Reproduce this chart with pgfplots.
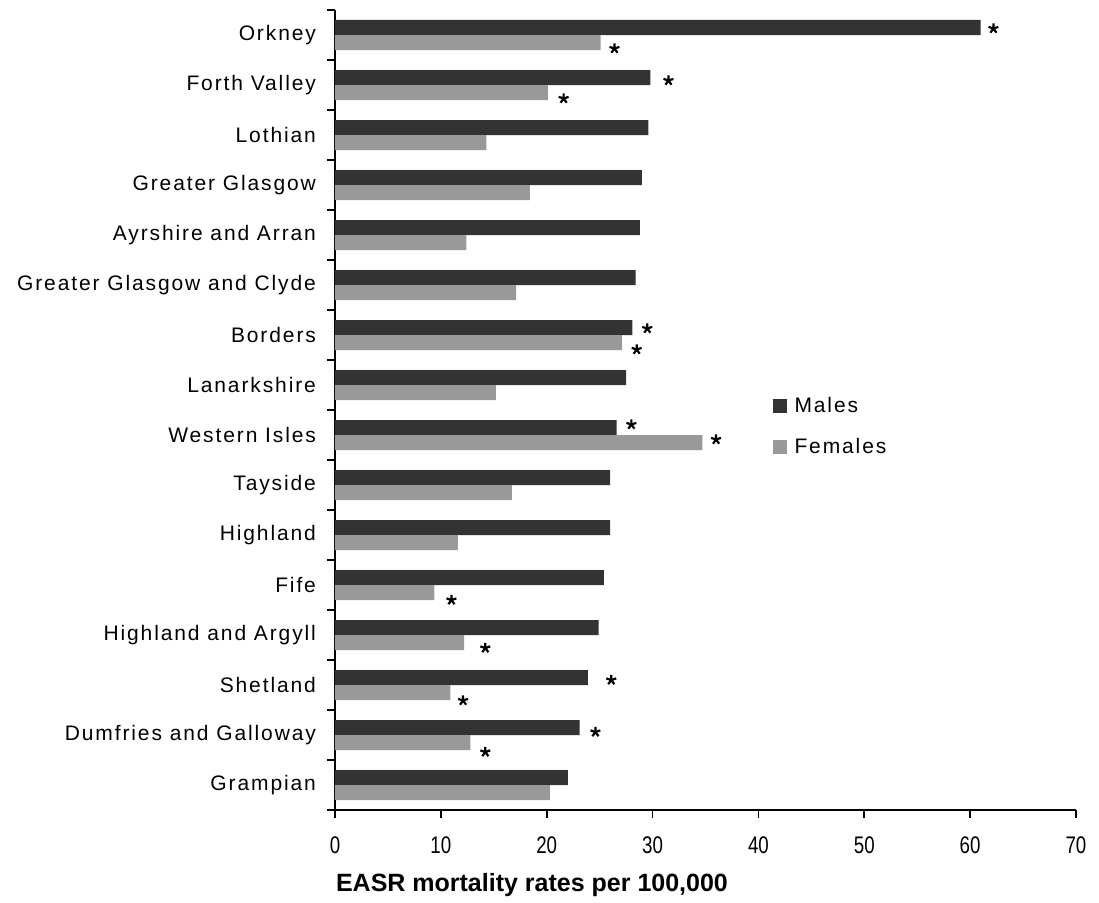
\documentclass[border=0pt]{standalone}
\usepackage{fontspec}
\setmainfont{Liberation Sans}[LetterSpace=9]
\newfontfamily\labelfont{Liberation Sans}
\usepackage{graphicx}
\usepackage{pgfplots}
\pgfplotsset{compat=1.18}

\definecolor{males}{HTML}{333333}
\definecolor{females}{HTML}{999999}

\begin{document}
\begin{tikzpicture}
\begin{axis}[
  scale only axis, width=370.5pt, height=400pt,
  xmin=0, xmax=70, ymin=-0.5, ymax=15.5,
  axis x line*=bottom, axis y line*=left,
  axis line style={line width=0.9pt, black},
  every tick/.style={line width=0.9pt, black},
  tick align=outside, major tick length=3.75pt,
  xtick={0,10,...,70},
  xticklabel={\scalebox{0.78}[1]{\labelfont\fontsize{12}{14}\selectfont\pgfmathprintnumber[assume math mode=true]{\tick}}},
  ytick={-0.5,0.5,...,15.5}, yticklabels={},
  extra y ticks={0,...,15},
  extra y tick labels={Grampian, Dumfries and Galloway, Shetland, Highland and Argyll, Fife, Highland, Tayside, Western Isles, Lanarkshire, Borders, Greater Glasgow and Clyde, Ayrshire and Arran, Greater Glasgow, Lothian, Forth Valley, Orkney},
  extra y tick style={major tick length=0pt, tick style={draw=none},
    yticklabel style={font=\fontsize{10.5}{12}\selectfont, anchor=east, xshift=-6pt}},
  xticklabel style={yshift=-6pt},
  xlabel={EASR mortality rates per 100,000},
  xlabel style={font=\labelfont\bfseries\fontsize{12.5}{14}\selectfont,
    at={(axis description cs:0,0)}, anchor=west, yshift=-37.5pt, xshift=-3pt},
  legend style={draw=none, fill=none, at={(axis description cs:0.591,0.522)},
    anchor=north west, inner sep=0pt, row sep=7.5pt,
    font=\fontsize{10.5}{12}\selectfont},
  legend cell align=left,
]
% Males
\addplot[xbar, fill=males, draw=none, bar width=7.5pt, bar shift=3.75pt,
  legend image code/.code={\fill[males] (0pt,-3.4pt) rectangle (6.8pt,3.4pt); \path (8.6pt,0pt);}]
  coordinates {
  (22.0,0) (23.1,1) (23.9,2) (24.9,3) (25.4,4) (26.0,5) (26.0,6) (26.6,7)
  (27.5,8) (28.1,9) (28.4,10) (28.8,11) (29.0,12) (29.6,13) (29.8,14) (61.0,15)
  };
\addlegendentry{Males}
% Females
\addplot[xbar, fill=females, draw=none, bar width=7.5pt, bar shift=-3.75pt,
  legend image code/.code={\fill[females] (0pt,-3.4pt) rectangle (6.8pt,3.4pt); \path (8.6pt,0pt);}]
  coordinates {
  (20.3,0) (12.8,1) (10.9,2) (12.2,3) (9.4,4) (11.6,5) (16.7,6) (34.7,7)
  (15.2,8) (27.1,9) (17.1,10) (12.4,11) (18.4,12) (14.3,13) (20.1,14) (25.1,15)
  };
\addlegendentry{Females}
% significance markers
\addplot[only marks, mark=star, mark size=2.6pt, mark options={line width=1.1pt, black}, forget plot]
  coordinates {
  (62.2,15.13) (26.4,14.73) (31.5,14.09) (21.6,13.73) (29.5,9.13) (28.5,8.71)
  (28.0,7.21) (36.0,6.91) (11.0,3.70) (14.2,2.74) (26.1,2.10) (12.1,1.69)
  (24.6,1.06) (14.2,0.66)
  };
\end{axis}
\pgfresetboundingbox
\path[use as bounding box] (current axis.south west) ++(-167.5pt,-46pt) rectangle ++(549.5pt,451pt);
\end{tikzpicture}
\end{document}
